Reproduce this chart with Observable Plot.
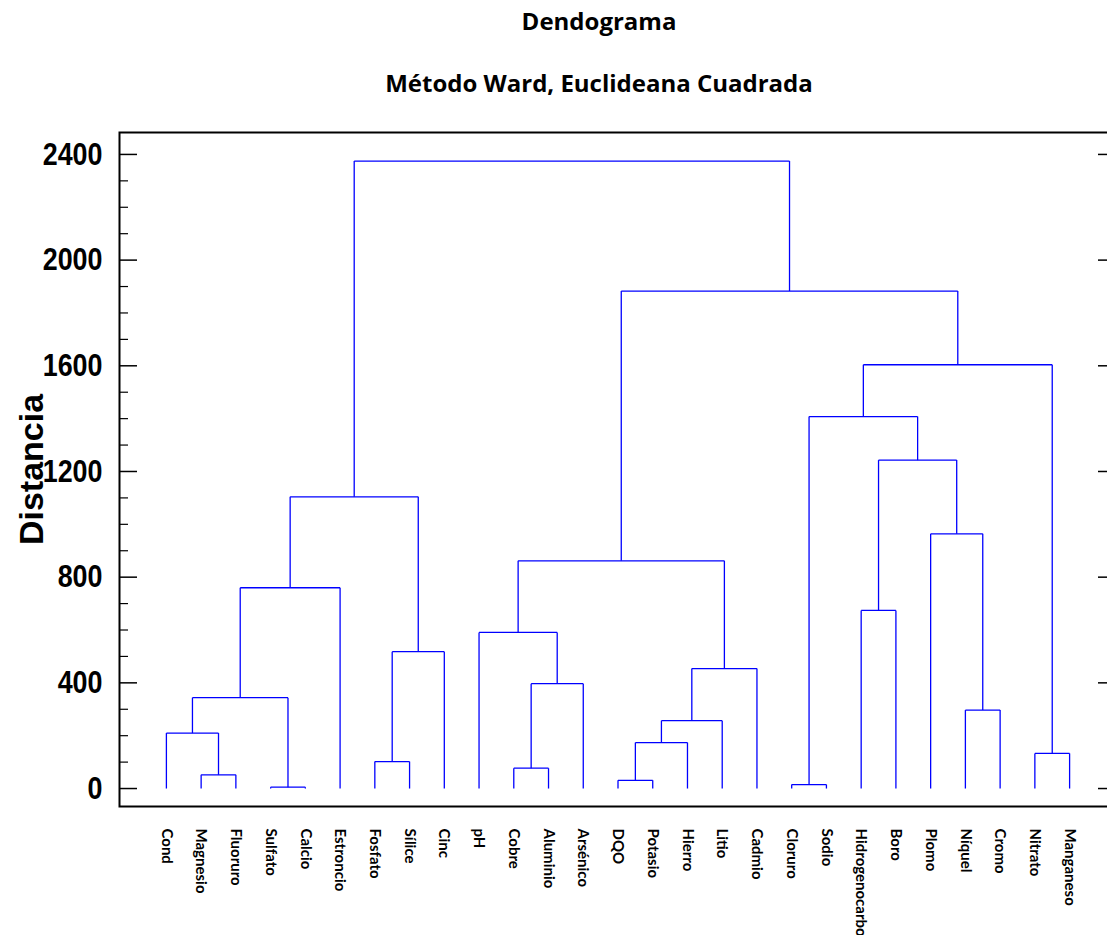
<!DOCTYPE html>
<html><head><meta charset="utf-8">
<script src="https://cdn.jsdelivr.net/npm/d3@7"></script>
<script src="https://cdn.jsdelivr.net/npm/@observablehq/plot@0.6"></script>
<style>
html,body{margin:0;padding:0;background:#fff;overflow:hidden;width:1107px;height:935px}
#head{position:relative;height:118px;font-family:"Open Sans",Lato,sans-serif;font-weight:bold;color:#000}
.t{position:absolute;left:0;width:1198px;text-align:center;line-height:1}
#t1{top:9px;font-size:24px}
#t2{top:71px;font-size:24px}
svg{display:block;max-width:none !important}
</style>
</head><body>
<div id="head"><div class="t" id="t1">Dendograma</div><div class="t" id="t2">Método Ward, Euclideana Cuadrada</div></div>
<script>
// Leaves in dendrogram order
const leaves = ["Cond","Magnesio","Fluoruro","Sulfato","Calcio","Estroncio","Fosfato","Sílice","Cinc","pH","Cobre","Aluminio","Arsénico","DQO","Potasio","Hierro","Litio","Cadmio","Cloruro","Sodio","Hidrogenocarbonato","Boro","Plomo","Níquel","Cromo","Nitrato","Manganeso"];
// Merges: node ids (0..26 leaves, 27+ merges in order), and heights
const mergeLeft  = [3, 18, 13, 1, 10, 6, 25, 29, 0, 34, 23, 35, 31, 36, 32, 9, 20, 38, 42, 22, 44, 43, 28, 49, 45, 47];
const mergeRight = [4, 19, 14, 2, 11, 7, 26, 15, 30, 16, 24, 27, 12, 17, 8, 39, 21, 5, 40, 37, 41, 46, 48, 33, 50, 51];
const mergeHeight = [5, 15, 31, 52, 77, 102, 133, 174, 210, 257, 297, 344, 397, 454, 518, 591, 674, 760, 862, 964, 1104, 1243, 1408, 1604, 1883, 2375];
const yMajor = [0, 400, 800, 1200, 1600, 2000, 2400];
const yMinor = d3.range(0, 2401, 100).filter(v => v % 400 !== 0);

// Build segments through the tree
const nx = leaves.map((_, i) => i), ny = leaves.map(() => 0);
const segs = [];
mergeLeft.forEach((a, k) => {
  const b = mergeRight[k], h = mergeHeight[k];
  segs.push({x1: nx[a], y1: ny[a], x2: nx[a], y2: h});
  segs.push({x1: nx[b], y1: ny[b], x2: nx[b], y2: h});
  segs.push({x1: nx[a], y1: h, x2: nx[b], y2: h});
  nx.push((nx[a] + nx[b]) / 2); ny.push(h);
});

const W = 1130, H = 817, mL = 119, mR = 14, mT = 14;
const fw = W - mL - mR;
const chart = Plot.plot({
  width: W, height: H,
  marginLeft: mL, marginRight: mR, marginTop: mT, marginBottom: 129,
  x: {domain: [-1.35, leaves.length - 1 + 1.35], axis: null},
  y: {domain: [-68, 2483], axis: null},
  style: {background: "#fff", overflow: "visible", maxWidth: "none"},
  marks: [
    Plot.link(segs, {x1: "x1", y1: "y1", x2: "x2", y2: "y2", stroke: "#0000ff", strokeWidth: 1.3}),
    Plot.tickY(yMajor, {y: d => d, insetRight: fw - 18, stroke: "#000", strokeWidth: 1.5}),
    Plot.tickY(yMinor, {y: d => d, insetRight: fw - 9, stroke: "#000", strokeWidth: 1.2}),
    Plot.tickY(yMajor, {y: d => d, insetLeft: fw - 18, stroke: "#000", strokeWidth: 1.5}),
    Plot.tickY(yMinor, {y: d => d, insetLeft: fw - 9, stroke: "#000", strokeWidth: 1.2}),
    Plot.frame({stroke: "#000", strokeWidth: 2}),
    Plot.text(yMajor, {y: d => d, frameAnchor: "left", textAnchor: "end", dx: -17, text: d => String(d),
      fontSize: 32, fontWeight: "bold", fontFamily: "'Liberation Sans',Arial,sans-serif", fill: "#000", className: "ylab"}),
    Plot.text(["Distancia"], {frameAnchor: "left", rotate: -90, dx: -87, text: d => d, textAnchor: "middle", lineAnchor: "middle",
      fontSize: 34, fontWeight: "bold", fontFamily: "'Liberation Sans',Arial,sans-serif", fill: "#000"}),
    Plot.text(leaves, {x: (d, i) => i, frameAnchor: "bottom", rotate: 90, textAnchor: "start", lineAnchor: "middle",
      dy: 22, text: d => d, fontSize: 15, fontWeight: "bold", fontFamily: "Lato,'Open Sans',sans-serif", fill: "#000"})
  ]
});
// condensed look for the numeric tick labels (narrow bold face)
chart.querySelectorAll(".ylab text").forEach(t => {
  t.setAttribute("transform", (t.getAttribute("transform") || "") + " scale(0.84,1)");
});
document.body.appendChild(chart);
</script>
</body></html>
